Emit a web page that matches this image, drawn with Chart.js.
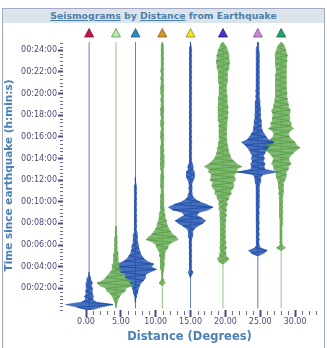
<!DOCTYPE html>
<html><head><meta charset="utf-8">
<script src="https://cdn.jsdelivr.net/npm/chart.js@4.4.0/dist/chart.umd.min.js"></script>
<style>
html,body{margin:0;padding:0;background:#fff;width:327px;height:348px;overflow:hidden;}
#frame{position:absolute;left:2px;top:8px;width:323px;height:345px;border:1px solid #a6a6c6;box-sizing:border-box;}
#titlebar{position:absolute;left:3px;top:9px;width:321px;height:14px;background:#dce4eb;font:bold 9.3px "DejaVu Sans";color:#4d7fae;text-align:center;line-height:14px;white-space:nowrap;}
#titlebar u{text-decoration:underline;}
#wrap{position:absolute;left:0;top:0;width:327px;height:348px;}
</style></head><body>
<div id="frame"></div>
<div id="titlebar"><u>Seismograms</u> by <u>Distance</u> from Earthquake</div>
<div id="wrap"><canvas id="c" width="327" height="348"></canvas></div>
<script>
// ---- data ----
const stationDist = [0.45, 4.3, 7.1, 10.95, 15.0, 19.65, 24.65, 28.0];   // degrees
const traceStartMin = [0, 0.25, 0.75, 2.25, 3.0, 4.25, 5.0, 5.5];        // minutes
const SAMPLE_STEP_MIN = 0.25;                                             // 15 s samples
const recordSpanMin = [0.15, 24.75];
// envelope half-amplitudes (degrees) per station, one value per sample
const amp1 = [0.3,1.7,3.4,1.0,0.5,0.65,0.45,0.5,0.45,0.35,0.45,0.3,0.2,0.05,0];
const amp2 = [0.05,0.1,0.2,0.35,0.55,0.8,1.35,1.45,2.3,2.7,1.85,1.45,1.15,0.8,0.55,0.5,0.45,0.35,0.3,0.35,0.3,0.2,0.2,0.2,0.15,0.15,0.15,0.1,0.1,0.05,0];
const amp3 = [0,0.05,0.15,0.25,0.35,0.45,0.6,0.8,1.2,1.5,1.45,2.15,3.0,2.3,2.6,1.7,1.2,0.95,0.7,0.6,0.5,0.45,0.35,0.3,0.3,0.25,0.2,0.2,0.2,0.15,0.2,0.15,0.15,0.15,0.15,0.15,0.15,0.15,0.15,0.1,0.15,0.1,0.1,0.1,0.05,0.05,0];
const amp4 = [0,0.45,0.2,0.05,0.05,0.1,0.2,0.25,0.3,0.25,0.3,0.4,0.35,0.55,0.8,0.9,1.4,2.3,2.0,1.5,1.2,0.95,0.75,0.65,0.6,0.45,0.4,0.35,0.3,0.25,0.2,0.25,
  0.2,0.25,0.2,0.15,0.2,0.25,0.2,0.2,0.25,0.2,
  0.15,0.2,0.25,0.3,0.25,0.3,0.25,0.2,0.25,0.2,
  0.2,0.15,0.2,0.25,0.2,0.2,0.15,0.2,0.25,0.2,
  0.15,0.2,0.2,0.25,0.2,0.15,0.2,0.2,0.15,0.2,
  0.2,0.25,0.2,0.15,0.2,0.2,0.15,0.2,0.2,0.15,
  0.2,0.15,0.2,0.15,0.15,0.15,0.1,0.1,0];
const amp5 = [0,0.2,0.35,0.1,0.1,0.15,0.1,0.15,0.15,0.1,0.15,0.2,0.15,0.2,0.2,0.25,0.35,0.3,0.55,1.1,1.75,2.2,1.6,0.9,1.2,2.6,3.2,2.35,1.3,0.65,0.35,0.25,0.2,0.25,0.2,0.25,0.4,0.6,0.55,0.6,0.35,0.4,0.25,0.2,0.2,
  0.2,0.15,0.2,0.15,0.15,0.2,0.15,0.15,0.2,0.15,
  0.15,0.1,0.15,0.15,0.2,0.15,0.15,0.1,0.15,0.15,
  0.15,0.1,0.15,0.15,0.1,0.15,0.15,0.1,0.15,0.15,
  0.1,0.15,0.15,0.1,0.15,0.1,0.15,0.15,0.1,0.1,
  0.1,0.05,0];
const amp6 = [0.05,0.6,0.85,0.45,0.45,0.35,0.5,0.35,0.45,0.35,
  0.4,0.3,0.35,0.3,0.4,0.35,0.45,0.4,0.5,0.4,
  0.55,0.45,0.65,0.55,0.8,0.85,1.2,1.1,1.45,1.6,
  1.45,1.85,1.7,1.6,2.1,2.0,2.7,2.0,1.6,1.2,
  1.05,0.9,0.8,0.75,0.65,0.6,0.55,0.5,0.5,0.55,
  0.55,0.6,0.55,0.65,0.7,0.65,0.75,0.7,0.75,0.65,
  0.6,0.65,0.6,0.55,0.5,0.55,0.5,0.6,0.65,0.6,
  0.7,0.65,0.8,0.85,0.9,0.95,0.85,0.9,0.75,0.7,
  0.5,0.35,0];
const amp7 = [0.05,0.9,1.35,0.4,0.2,0.15,0.2,0.15,0.2,0.15,
  0.2,0.15,0.2,0.2,0.15,0.2,0.2,0.15,0.2,0.25,
  0.2,0.2,0.25,0.2,0.25,0.2,0.25,0.35,0.4,0.45,
  0.7,2.9,1.05,0.9,1.05,0.8,0.95,0.8,1.05,1.2,
  1.5,1.85,2.35,1.5,1.2,0.95,0.7,0.6,0.55,0.5,
  0.5,0.4,0.45,0.35,0.4,0.35,0.3,0.35,0.25,0.3,
  0.25,0.3,0.2,0.25,0.2,0.25,0.2,0.25,0.2,0.25,
  0.2,0.25,0.2,0.2,0.2,0.2,0.15,0.15,0.1,0];
const amp8 = [0.05,0.65,0.15,0.15,0.1,0.15,0.1,0.15,0.1,0.15,
  0.15,0.15,0.2,0.2,0.25,0.2,0.25,0.2,0.25,0.25,
  0.25,0.35,0.3,0.35,0.35,0.4,0.55,0.7,0.75,0.7,
  1.05,1.05,1.4,1.2,1.1,1.35,1.75,2.2,2.7,2.2,
  2.0,1.55,1.2,1.05,1.2,1.8,1.4,1.5,1.2,1.3,
  1.15,1.3,1.3,1.05,1.05,0.9,0.9,0.8,0.85,0.8,
  0.75,0.8,0.75,0.75,0.75,0.8,0.7,0.7,0.8,0.75,
  0.85,0.8,0.9,0.8,0.7,0.55,0.4,0];
const xTickValues = [0, 5, 10, 15, 20, 25, 30];
const xTickLabels = ["0.00", "5.00", "10.00", "15.00", "20.00", "25.00", "30.00"];
const yTickValues = [2, 4, 6, 8, 10, 12, 14, 16, 18, 20, 22, 24];
const yTickLabels = ["00:02:00","00:04:00","00:06:00","00:08:00","00:10:00","00:12:00","00:14:00","00:16:00","00:18:00","00:20:00","00:22:00","00:24:00"];

// ---- styles ----
const ampSets = [amp1, amp2, amp3, amp4, amp5, amp6, amp7, amp8];
const lineColors = ['#1c4aa6','#559d43','#1c4aa6','#559d43','#1c4aa6','#559d43','#1c4aa6','#559d43'];
const haloColors = ['rgba(38,86,178,0.85)','rgba(104,172,88,0.85)','rgba(38,86,178,0.85)','rgba(104,172,88,0.85)','rgba(38,86,178,0.85)','rgba(104,172,88,0.85)','rgba(38,86,178,0.85)','rgba(104,172,88,0.85)'];
const thinColors = ['#5f7fc0','#8fc67f','#5f7fc0','#8fc67f','#5f7fc0','#8fc67f','#5f7fc0','#8fc67f'];
const markerFill = ['#c8164c','#b4eea4','#2a8ac4','#d8952c','#f2e62a','#4634c8','#c88ad4','#1fa36c'];
const markerStroke = ['#7a0e30','#5f8f55','#1a5a80','#8a5a18','#8a8418','#241a7a','#7a4a86','#126a44'];
const tickColor = '#4b4b80';
const FONT = '"DejaVu Sans", Verdana, sans-serif';

const datasets = [];
stationDist.forEach((d, i) => {
  const a = ampSets[i], t0 = traceStartMin[i];
  const tOf = k => t0 + k * SAMPLE_STEP_MIN;
  const right = a.map((v, k) => ({x: d + v, y: tOf(k)}));
  const left = a.map((v, k) => ({x: d - v, y: tOf(k)})).reverse();
  datasets.push({data: right.concat(left), fill: 'shape', backgroundColor: haloColors[i],
    borderColor: haloColors[i], borderWidth: 0.5, pointRadius: 0, tension: 0, order: 2});
  datasets.push({data: a.map((v, k) => ({x: d + (k % 2 ? -v : v), y: tOf(k)})), fill: false,
    borderColor: lineColors[i], borderWidth: 0.8, pointRadius: 0, tension: 0, order: 1});
  datasets.push({data: [{x: d, y: recordSpanMin[0]}, {x: d, y: recordSpanMin[1]}], fill: false,
    borderColor: thinColors[i], borderWidth: 1, pointRadius: 0, order: 3});
});

const decor = {
  id: 'decor',
  afterDraw(chart) {
    const {ctx, chartArea: a, scales: {x, y}} = chart;
    ctx.save();
    ctx.strokeStyle = '#6c6c9c'; ctx.lineWidth = 1;
    ctx.beginPath();
    for (let v = 1; v <= 33; v++) {
      if (v % 5 === 0) continue;
      const px = Math.round(x.getPixelForValue(v)) + 0.5;
      ctx.moveTo(px, a.bottom + 1); ctx.lineTo(px, a.bottom + 5);
    }
    for (let k = 0; k / 3 <= y.max; k++) {
      if (k % 6 === 0 && k > 0) continue;
      const py = Math.round(y.getPixelForValue(k / 3)) + 0.5;
      ctx.moveTo(a.left - 3, py); ctx.lineTo(a.left, py);
    }
    ctx.stroke();
    stationDist.forEach((d, i) => {
      const px = x.getPixelForValue(d), py = a.top - 8;
      ctx.beginPath();
      ctx.moveTo(px, py - 4.5); ctx.lineTo(px + 4.5, py + 4); ctx.lineTo(px - 4.5, py + 4); ctx.closePath();
      ctx.fillStyle = markerFill[i]; ctx.fill();
      ctx.strokeStyle = markerStroke[i]; ctx.lineWidth = 0.8; ctx.stroke();
    });
    ctx.restore();
  }
};

new Chart(document.getElementById('c'), {
  type: 'line',
  data: {datasets},
  plugins: [decor],
  options: {
    responsive: false, animation: false, events: [],
    layout: {padding: {left: 0, right: 11, top: 41, bottom: 0}},
    plugins: {legend: {display: false}, tooltip: {enabled: false}},
    scales: {
      x: {type: 'linear', min: -3.3, max: 33,
        afterBuildTicks: s => { s.ticks = xTickValues.map(v => ({value: v})); },
        afterFit: s => { s.height = 38; },
        grid: {drawOnChartArea: false, drawTicks: true, tickLength: 7, tickWidth: 2, tickColor: tickColor},
        border: {display: false},
        ticks: {padding: 0, color: '#4b4b7a', maxRotation: 0, autoSkip: false,
          font: {family: FONT, size: 8}, callback: (v, i) => xTickLabels[i]},
        title: {display: true, text: 'Distance (Degrees)', color: '#4a80b4',
          font: {family: FONT, size: 11.5, weight: 'bold'}, padding: {top: 0, bottom: 4.5}}
      },
      y: {type: 'linear', min: 0, max: 24.85,
        afterBuildTicks: s => { s.ticks = yTickValues.map(v => ({value: v})); },
        afterFit: s => { s.width = 63; },
        grid: {drawOnChartArea: false, drawTicks: true, tickLength: 5, tickWidth: 2, tickColor: tickColor},
        border: {display: false},
        ticks: {padding: 1, color: '#4b4b7a', autoSkip: false,
          font: {family: FONT, size: 8}, callback: (v, i) => yTickLabels[i]},
        title: {display: true, text: 'Time since earthquake (h:min:s)', color: '#4a80b4',
          font: {family: FONT, size: 10.5, weight: 'bold'}, padding: {top: 3, bottom: 0}}
      }
    }
  }
});
</script>
</body></html>
